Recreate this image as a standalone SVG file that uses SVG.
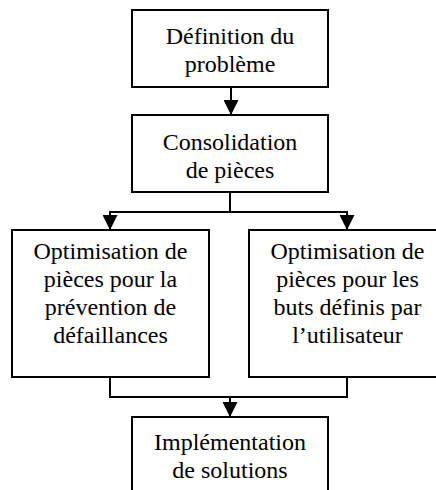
<svg xmlns="http://www.w3.org/2000/svg" width="436" height="490" viewBox="0 0 436 490">
<style>
.box{fill:#fff;stroke:#000;stroke-width:2}
.c{fill:none;stroke:#000;stroke-width:2}
.t{font-family:"Liberation Serif","Times New Roman",serif;font-size:24px;fill:#000;text-anchor:middle}
</style>
<defs>
<marker id="ah" markerUnits="userSpaceOnUse" markerWidth="15" markerHeight="15" refX="15" refY="7.5" orient="auto" viewBox="0 0 15 15">
<path d="M0,0 L15,7.5 L0,15 z" fill="#000"/>
</marker>
</defs>
<rect width="436" height="490" fill="#fff"/>
<g id="connectors">
<line class="c" x1="231" y1="87" x2="231" y2="115" marker-end="url(#ah)"/>
<polyline class="c" points="230,192 230,212"/>
<polyline class="c" points="110,230 110,212 347,212 347,230"/>
<line class="c" x1="110" y1="212" x2="110" y2="230" marker-end="url(#ah)"/>
<line class="c" x1="347" y1="212" x2="347" y2="230" marker-end="url(#ah)"/>
<polyline class="c" points="110,377 110,397 347,397 347,377"/>
<line class="c" x1="230" y1="397" x2="230" y2="417" marker-end="url(#ah)"/>
</g>
<g id="n1">
<rect class="box" x="132" y="10" width="196" height="77"/>
<text class="t" x="230" y="44">Définition du</text>
<text class="t" x="230" y="72">problème</text>
</g>
<g id="n2">
<rect class="box" x="132" y="115" width="196" height="77"/>
<text class="t" x="230" y="150">Consolidation</text>
<text class="t" x="230" y="178">de pièces</text>
</g>
<g id="n3">
<rect class="box" x="12" y="230" width="197" height="147"/>
<text class="t" x="110.5" y="259">Optimisation de</text>
<text class="t" x="110.5" y="287">pièces pour la</text>
<text class="t" x="110.5" y="315">prévention de</text>
<text class="t" x="110.5" y="343">défaillances</text>
</g>
<g id="n4">
<rect class="box" x="249" y="230" width="197" height="147"/>
<text class="t" x="347.5" y="259">Optimisation de</text>
<text class="t" x="347.5" y="287">pièces pour les</text>
<text class="t" x="347.5" y="315">buts définis par</text>
<text class="t" x="347.5" y="343">l’utilisateur</text>
</g>
<g id="n5">
<rect class="box" x="132" y="417" width="196" height="77"/>
<text class="t" x="230" y="450">Implémentation</text>
<text class="t" x="230" y="478">de solutions</text>
</g>
</svg>
